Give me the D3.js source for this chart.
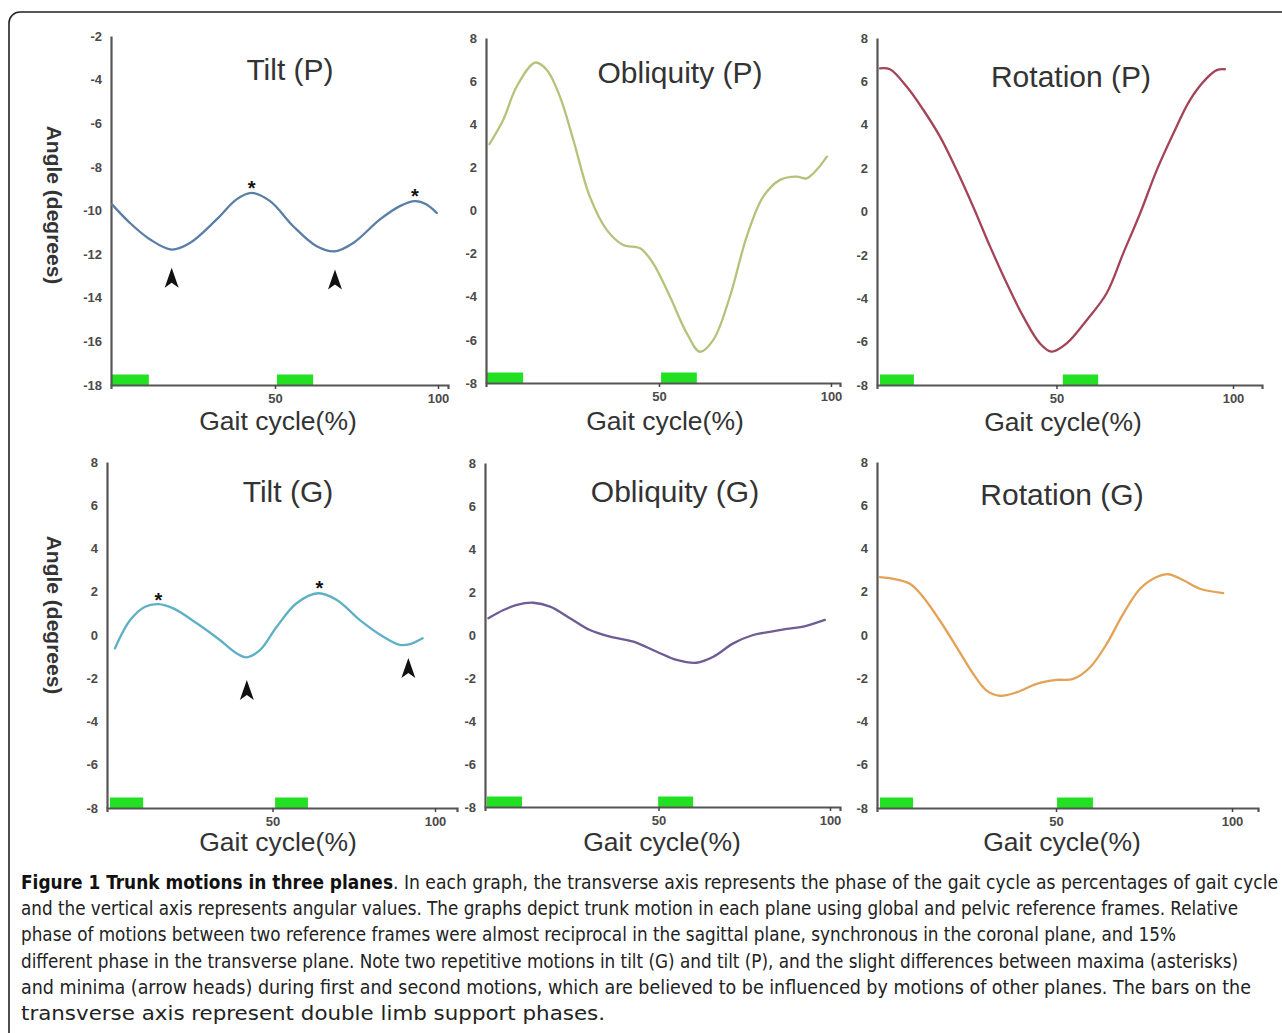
<!DOCTYPE html>
<html>
<head>
<meta charset="utf-8">
<script src="https://cdn.jsdelivr.net/npm/d3@7"></script>
<style>
  body { margin: 0; background: #fff; }
  svg { display: block; }
  .tick text { font-family: "Liberation Sans", Arial, sans-serif; }
</style>
</head>
<body>
<svg id="chart"></svg>
<script>
// panel titles, ticks
var panelTitles = ["Tilt (P)", "Obliquity (P)", "Rotation (P)", "Tilt (G)", "Obliquity (G)", "Rotation (G)"];
var xTicks = [50, 100];
var yTicksTiltP = [-18, -16, -14, -12, -10, -8, -6, -4, -2];
var yTicks = [-8, -6, -4, -2, 0, 2, 4, 6, 8];
var xLabel = "Gait cycle(%)";
var yLabel = "Angle (degrees)";

// curves: [gait cycle %, angle in degrees]
var tiltP = [[0,-9.72],[5.5,-10.57],[11.7,-11.33],[18.3,-11.79],[23.9,-11.49],[32.1,-10.41],[38.2,-9.49],[42.8,-9.19],
  [48.5,-9.57],[55.6,-10.72],[62.8,-11.64],[68.4,-11.87],[74.0,-11.49],[82.2,-10.41],[88.3,-9.80],[92.9,-9.57],[96.5,-9.72],[99.6,-10.11]];
var obliquityP = [[0.7,3.08],[4.7,4.2],[8.6,5.74],[14,6.86],[17.4,6.52],[21.2,5.28],[25.1,3.27],[29.9,0.64],[34.8,-0.9],
  [39.6,-1.6],[44.5,-1.75],[48.3,-2.45],[53.2,-4.0],[58.1,-5.7],[61.9,-6.55],[65.8,-6.0],[70.6,-4.0],[75.5,-1.21],
  [80.3,0.64],[85.2,1.42],[90,1.57],[92.9,1.49],[95.8,1.88],[98.8,2.5]];
var rotationP = [[0,6.6],[2.8,6.56],[7.6,5.75],[12.3,4.68],[17,3.45],[21.7,1.91],[26.4,0.22],[31.2,-1.62],[35.9,-3.31],
  [40.6,-4.85],[45.3,-6.08],[48.6,-6.46],[52.9,-6.08],[58.6,-5.0],[64.2,-3.77],[68.9,-1.93],[73.7,-0.08],[78.4,1.91],
  [83.1,3.6],[87.8,5.14],[92.5,6.14],[95.4,6.52],[97.7,6.56]];
var tiltG = [[1.5,-0.62],[6.2,0.69],[10.8,1.31],[14.9,1.43],[19.5,1.23],[26.7,0.54],[33.8,-0.23],[39.0,-0.85],[42.1,-1.03],
  [46.2,-0.69],[51.3,0.38],[57.4,1.47],[64.1,1.93],[69.8,1.62],[76.9,0.69],[84.1,-0.08],[89.2,-0.46],[92.3,-0.42],[96.2,-0.15]];
var obliquityG = [[0.4,0.78],[4.8,1.16],[8.7,1.4],[13.5,1.5],[18.4,1.32],[24.2,0.78],[30,0.23],[35.9,-0.08],[42.7,-0.31],
  [49.5,-0.78],[55.3,-1.16],[61.1,-1.29],[66,-1.01],[71.8,-0.39],[77.6,0.0],[82.5,0.15],[87.4,0.28],[92.2,0.39],[98.5,0.7]];
var rotationG = [[0,2.68],[3.8,2.6],[8.5,2.37],[12.3,1.75],[17,0.67],[21.8,-0.57],[26.5,-1.8],[30.3,-2.57],[34.1,-2.81],
  [38.8,-2.65],[44.5,-2.26],[50.2,-2.08],[54.9,-2.03],[59.7,-1.49],[64.4,-0.41],[69.1,0.98],[73.9,2.14],[78.6,2.68],
  [81.9,2.81],[86.2,2.53],[90.9,2.14],[97.5,1.94]];

// double limb support phases [start %, end %]
var barsTiltP = [[0, 11.3], [50.6, 61.7]];
var barsObliquityP = [[0, 10.5], [50.6, 61]];
var barsRotationP = [[0, 9.6], [51.8, 61.8]];
var barsTiltG = [[0, 10.2], [50.8, 60.9]];
var barsObliquityG = [[0, 10.2], [49.9, 60.1]];
var barsRotationG = [[0, 9.4], [50.3, 60.5]];

// maxima (asterisks) and minima (arrow heads): [%, angle]
var starsTiltP = [[42.8, -8.73], [92.9, -9.11]];
var arrowsTiltP = [[18.3, -12.62], [68.4, -12.71]];
var starsTiltG = [[14.9, 1.85], [64.4, 2.39]];
var arrowsTiltG = [[42.1, -2.08], [91.8, -1.06]];

var captionBold = "Figure 1 Trunk motions in three planes";
var captionLines = [
  ". In each graph, the transverse axis represents the phase of the gait cycle as percentages of gait cycle",
  "and the vertical axis represents angular values. The graphs depict trunk motion in each plane using global and pelvic reference frames. Relative",
  "phase of motions between two reference frames were almost reciprocal in the sagittal plane, synchronous in the coronal plane, and 15%",
  "different phase in the transverse plane. Note two repetitive motions in tilt (G) and tilt (P), and the slight differences between maxima (asterisks)",
  "and minima (arrow heads) during first and second motions, which are believed to be influenced by motions of other planes. The bars on the",
  "transverse axis represent double limb support phases."
];

var width = 1282, height = 1033;
var svg = d3.select("#chart").attr("width", width).attr("height", height);

// frame
svg.append("rect")
  .attr("x", 9).attr("y", 12).attr("width", 1300).attr("height", 1060)
  .attr("rx", 11).attr("fill", "none").attr("stroke", "#222").attr("stroke-width", 1.6);

var panels = [
  { data: tiltP, color: "#5a7ea6", ticks: yTicksTiltP, dom: [-18, -2], bars: barsTiltP, stars: starsTiltP, arrows: arrowsTiltP },
  { data: obliquityP, color: "#b2c47a", ticks: yTicks, dom: [-8, 8], bars: barsObliquityP },
  { data: rotationP, color: "#a34458", ticks: yTicks, dom: [-8, 8], bars: barsRotationP },
  { data: tiltG, color: "#5fb0c4", ticks: yTicks, dom: [-8, 8], bars: barsTiltG, stars: starsTiltG, arrows: arrowsTiltG },
  { data: obliquityG, color: "#6e5c94", ticks: yTicks, dom: [-8, 8], bars: barsObliquityG },
  { data: rotationG, color: "#e3a256", ticks: yTicks, dom: [-8, 8], bars: barsRotationG }
];

// pixel layout of each panel
var layout = [
  { ax: 111, x0: 112, x100: 438, xEnd: 448, yTop: 36, yBot: 385, tx: 290, ty: 80, gx: 278, gy: 430 },
  { ax: 486, x0: 487, x100: 831, xEnd: 840, yTop: 38, yBot: 383, tx: 680, ty: 83, gx: 665, gy: 430 },
  { ax: 877, x0: 880, x100: 1233, xEnd: 1262, yTop: 38, yBot: 385, tx: 1071, ty: 87, gx: 1063, gy: 431 },
  { ax: 107, x0: 110, x100: 435, xEnd: 457, yTop: 462, yBot: 808, tx: 288, ty: 502, gx: 278, gy: 851 },
  { ax: 485, x0: 487, x100: 830, xEnd: 840, yTop: 463, yBot: 807, tx: 675, ty: 502, gx: 662, gy: 851 },
  { ax: 877, x0: 880, x100: 1232, xEnd: 1258, yTop: 462, yBot: 808, tx: 1062, ty: 505, gx: 1062, gy: 851 }
];

var textCol = "#333";

panels.forEach(function(p, i) {
  var L = layout[i];
  var base = d3.scaleLinear().domain([0, 100]).range([L.x0, L.x100]);
  var x = d3.scaleLinear().domain([base.invert(L.ax), base.invert(L.xEnd)]).range([L.ax, L.xEnd]);
  var y = d3.scaleLinear().domain(p.dom).range([L.yBot, L.yTop]);
  var g = svg.append("g");

  // support bars
  g.selectAll(".bar")
    .data(p.bars)
    .enter()
    .append("rect")
    .attr("class", "bar")
    .attr("x", function(d) { return x(d[0]); })
    .attr("y", L.yBot - 10.5)
    .attr("width", function(d) { return x(d[1]) - x(d[0]); })
    .attr("height", 10.5)
    .attr("fill", "#22e022");

  // axes
  var xa = g.append("g")
    .attr("transform", "translate(0," + L.yBot + ")")
    .call(d3.axisBottom(x).tickValues(xTicks).tickSizeOuter(0).tickSize(4).tickPadding(5));
  var ya = g.append("g")
    .attr("transform", "translate(" + L.ax + ",0)")
    .call(d3.axisLeft(y).tickValues(p.ticks).tickSizeOuter(0).tickSize(0).tickPadding(9)
      .tickFormat(function(d) { return String(d); }));
  [xa, ya].forEach(function(a) {
    a.select(".domain").attr("stroke", "#555").attr("stroke-width", 2.2);
    a.selectAll(".tick line").attr("stroke", "#444").attr("stroke-width", 1.5);
    a.selectAll(".tick text").attr("font-size", 13).attr("font-weight", "bold").attr("fill", "#4a4a4a");
  });

  // curve
  var line = d3.line()
    .x(function(d) { return x(d[0]); })
    .y(function(d) { return y(d[1]); })
    .curve(d3.curveCatmullRom.alpha(0.5));
  g.append("path")
    .datum(p.data)
    .attr("d", line)
    .attr("fill", "none")
    .attr("stroke", p.color)
    .attr("stroke-width", 2.3)
    .attr("stroke-linecap", "round");

  // asterisks and arrow heads
  if (p.stars) {
    g.selectAll(".star")
      .data(p.stars)
      .enter()
      .append("text")
      .attr("class", "star")
      .attr("x", function(d) { return x(d[0]); })
      .attr("y", function(d) { return y(d[1]); })
      .attr("dy", "0.6em")
      .attr("text-anchor", "middle")
      .attr("font-family", "Liberation Sans, Arial, sans-serif")
      .attr("font-weight", "bold")
      .attr("font-size", 20)
      .attr("fill", "#111")
      .text("*");
  }
  if (p.arrows) {
    g.selectAll(".arrow")
      .data(p.arrows)
      .enter()
      .append("path")
      .attr("class", "arrow")
      .attr("transform", function(d) { return "translate(" + x(d[0]) + "," + y(d[1]) + ")"; })
      .attr("d", "M0,0 L7,20 L0,15 L-7,20 Z")
      .attr("fill", "#111");
  }

  // titles
  g.append("text")
    .attr("x", L.tx).attr("y", L.ty)
    .attr("text-anchor", "middle")
    .attr("font-family", "Liberation Sans, Arial, sans-serif")
    .attr("font-size", 30)
    .attr("fill", textCol)
    .text(panelTitles[i]);
  g.append("text")
    .attr("x", L.gx).attr("y", L.gy)
    .attr("text-anchor", "middle")
    .attr("font-family", "Liberation Sans, Arial, sans-serif")
    .attr("font-size", 26.5)
    .attr("fill", textCol)
    .text(xLabel);

  if (i % 3 == 0) {
    g.append("text")
      .attr("transform", "translate(47," + (i == 0 ? 205 : 615) + ") rotate(90)")
      .attr("text-anchor", "middle")
      .attr("font-family", "Liberation Sans, Arial, sans-serif")
      .attr("font-weight", "bold")
      .attr("font-size", 21)
      .attr("fill", textCol)
      .text(yLabel);
  }
});

// caption
var capFont = "'DejaVu Sans Condensed', 'Liberation Sans', sans-serif";
var capX = 21, capY = 889, capStep = 26.2;
var capEnds = [1278, 1238, 1176, 1238, 1251, 605];
var cap = svg.append("g").attr("font-family", capFont).attr("font-size", 19).attr("fill", "#222");
cap.append("text")
  .attr("x", capX).attr("y", capY)
  .attr("font-weight", "bold")
  .attr("fill", "#111")
  .attr("textLength", 372)
  .attr("lengthAdjust", "spacingAndGlyphs")
  .text(captionBold);
cap.selectAll(".cap")
  .data(captionLines)
  .enter()
  .append("text")
  .attr("class", "cap")
  .attr("x", function(d, i) { return i == 0 ? capX + 372 : capX; })
  .attr("y", function(d, i) { return capY + i * capStep; })
  .attr("textLength", function(d, i) { return capEnds[i] - (i == 0 ? capX + 372 : capX); })
  .attr("lengthAdjust", "spacingAndGlyphs")
  .text(function(d) { return d; });
</script>
</body>
</html>
